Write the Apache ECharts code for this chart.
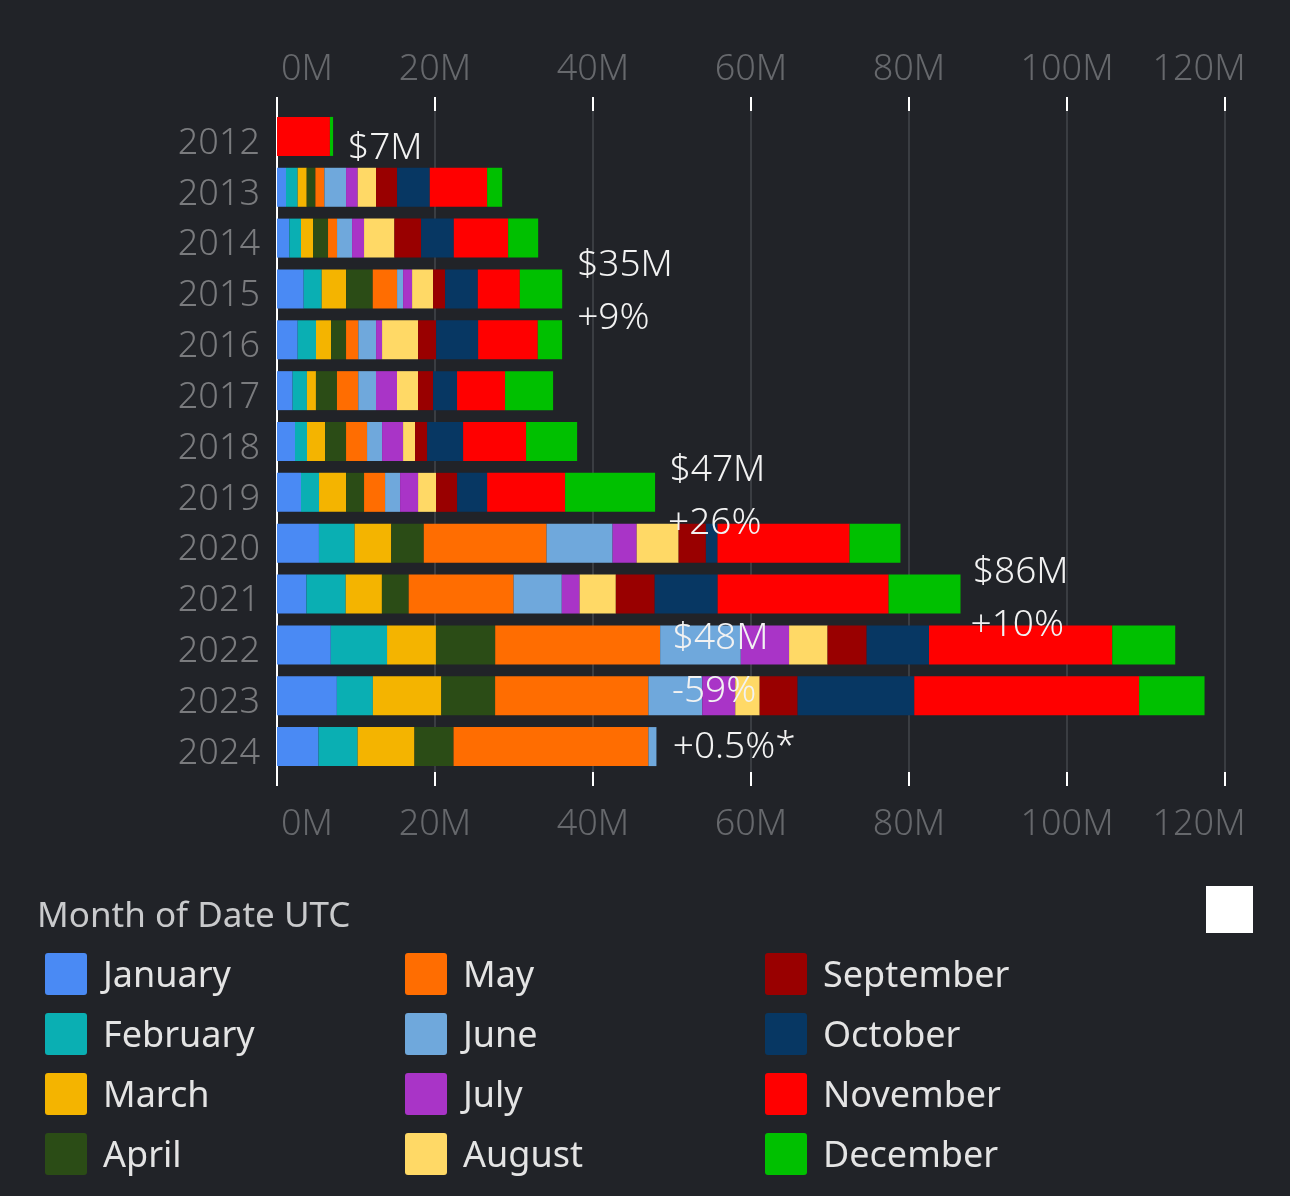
<!DOCTYPE html>
<html>
<head>
<meta charset="utf-8">
<style>
html,body{margin:0;padding:0;background:#212328;}
#chart{width:1290px;height:1196px;}
</style>
<script src="https://cdn.jsdelivr.net/npm/echarts@6/dist/echarts.min.js"></script>
</head>
<body>
<div id="chart"></div>
<script>
// ---- data ----
var years = ['2012','2013','2014','2015','2016','2017','2018','2019','2020','2021','2022','2023','2024'];
var months = ['January','February','March','April','May','June','July','August','September','October','November','December'];
var monthColors = ['#4a8af4','#0aafb3','#f4b400','#2b4c16','#ff6d01','#6fa8dc','#a934c7','#ffd966','#990000','#073763','#ff0000','#00c000'];
var xTicks = [0, 20, 40, 60, 80, 100, 120];

var jan = [null, 1.14, 1.56, 3.38, 2.62, 1.98, 2.28, 3.04, 5.31, 3.73, 6.81, 7.58, 5.26];
var feb = [null, 1.48, 1.48, 2.28, 2.32, 1.81, 1.52, 2.28, 4.52, 4.97, 7.12, 4.56, 4.95];
var mar = [null, 1.14, 1.52, 3.08, 1.90, 1.14, 2.28, 3.42, 4.63, 4.58, 6.19, 8.66, 7.19];
var apr = [null, 1.10, 1.90, 3.38, 1.90, 2.66, 2.66, 2.28, 4.12, 3.39, 7.50, 6.81, 4.95];
var may = [null, 1.14, 1.14, 3.08, 1.56, 2.70, 2.66, 2.66, 15.54, 13.28, 20.88, 19.41, 24.67];
var jun = [null, 2.74, 1.90, 0.76, 2.24, 2.24, 1.90, 1.90, 8.36, 6.10, 10.21, 6.81, 1.01];
var jul = [null, 1.48, 1.52, 1.14, 0.76, 2.66, 2.66, 2.28, 3.05, 2.26, 6.11, 4.18, null];
var aug = [null, 2.32, 3.84, 2.66, 4.56, 2.66, 1.52, 2.28, 5.31, 4.58, 4.87, 3.09, null];
var sep = [null, 2.66, 3.38, 1.52, 2.28, 1.90, 1.52, 2.66, 3.45, 4.92, 4.95, 4.80, null];
var oct = [null, 4.14, 4.14, 4.14, 5.32, 3.04, 4.56, 3.80, 1.47, 7.97, 7.89, 14.77, null];
var nov = [6.70, 7.26, 6.88, 5.32, 7.55, 6.08, 7.97, 9.87, 16.72, 21.64, 23.20, 28.46, null];
var dec = [0.40, 1.90, 3.80, 5.36, 3.08, 6.08, 6.46, 11.39, 6.44, 9.10, 7.97, 8.28, null];
var monthValues = [jan, feb, mar, apr, may, jun, jul, aug, sep, oct, nov, dec];

// annotations
var annoText = ['$7M', '$35M', '+9%', '$47M', '+26%', '$86M', '+10%', '$48M', '-59%', '+0.5%*'];
var annoX    = [9.0, 38.0, 38.0, 49.7, 49.5, 88.1, 87.8, 50.1, 50.0, 50.1];
var annoYear = ['2012', '2015', '2015', '2019', '2019', '2021', '2021', '2022', '2023', '2024'];
var annoDy   = [12, -24, 29, -22, 31, -22, 31, -6, -4, 1];

var FONT = '"Noto Sans", "Open Sans", sans-serif';
var axisLabelColor = '#66686c';

function xLabelFormatter(v) {
  if (v === xTicks[0]) return '{first|' + v + 'M}';
  if (v === xTicks[xTicks.length - 1]) return '{last|' + v + 'M}';
  return v + 'M';
}
var richBase = {fontSize: 36, fontFamily: FONT, fontWeight: 300, color: axisLabelColor};
function xAxisDef(pos, margin) {
  return {
    type: 'value', position: pos, min: 0, max: 120, interval: 20,
    axisLine: {show: false},
    axisTick: {show: true, length: 14, lineStyle: {color: '#ffffff', width: 2}},
    splitLine: {show: true, lineStyle: {color: '#3a3d42', width: 2}},
    axisLabel: {
      margin: margin, fontSize: 36, fontFamily: FONT, fontWeight: 300, color: axisLabelColor,
      formatter: xLabelFormatter,
      rich: {
        first: Object.assign({padding: [0, 0, 0, 60]}, richBase),
        last: Object.assign({padding: [0, 52, 0, 0]}, richBase)
      }
    }
  };
}

var series = months.map(function (m, i) {
  return {
    name: m, type: 'bar', stack: 'total', barWidth: 39,
    itemStyle: {color: monthColors[i]},
    data: monthValues[i]
  };
});

var swatch = 'path://M3,0 H39 Q42,0 42,3 V39 Q42,42 39,42 H3 Q0,42 0,39 V3 Q0,0 3,0 Z';
function legendDef(idx, left) {
  return {
    orient: 'vertical', left: left, top: 953, padding: 0,
    itemWidth: 42, itemHeight: 42, itemGap: 18,
    icon: swatch,
    data: months.slice(idx * 4, idx * 4 + 4),
    formatter: function (n) { return '{m|' + n + '}'; },
    textStyle: {
      color: '#e4e4e4', fontSize: 36, fontFamily: FONT,
      rich: {m: {color: '#e4e4e4', fontSize: 36, fontFamily: FONT, padding: [5, 0, 0, 11]}}
    },
    selectedMode: false
  };
}

var chart = echarts.init(document.getElementById('chart'));
chart.setOption({
  backgroundColor: '#212328',
  animation: false,
  grid: {left: 277, right: 65, top: 111, bottom: 424},
  xAxis: [xAxisDef('top', 23), xAxisDef('bottom', 35)],
  yAxis: {
    type: 'category', data: years, inverse: true,
    axisLine: {show: true, lineStyle: {color: '#ffffff', width: 2}},
    axisTick: {show: false},
    axisLabel: {
      margin: 17, fontSize: 36, fontFamily: FONT, fontWeight: 300, color: '#7a7b7e',
      formatter: function (v) { return '{y|' + v + '}'; },
      rich: {y: {fontSize: 36, fontFamily: FONT, fontWeight: 300, color: '#7a7b7e', padding: [14, 0, 0, 0]}}
    }
  },
  legend: [legendDef(0, 45), legendDef(1, 405), legendDef(2, 765)],
  series: series
});

// annotation texts placed through the chart's own scales
var graphics = [
  {id: 'legendTitle', type: 'text', left: 37, top: 900, style: {text: 'Month of Date UTC', fill: '#c9cacc', fontSize: 35, fontFamily: FONT}},
  {id: 'whiteBox', type: 'rect', shape: {x: 1206, y: 886, width: 47, height: 47}, style: {fill: '#ffffff'}}
];
annoText.forEach(function (t, i) {
  var p = chart.convertToPixel({xAxisIndex: 0, yAxisIndex: 0}, [annoX[i], annoYear[i]]);
  graphics.push({
    id: 'anno' + i, type: 'text', x: p[0], y: p[1] + annoDy[i], z: 100,
    style: {text: t, fill: '#f2f2f2', fontSize: 37, fontFamily: FONT, fontWeight: 300,
            textAlign: 'left', textVerticalAlign: 'middle'}
  });
});
chart.setOption({graphic: graphics});
</script>
</body>
</html>
